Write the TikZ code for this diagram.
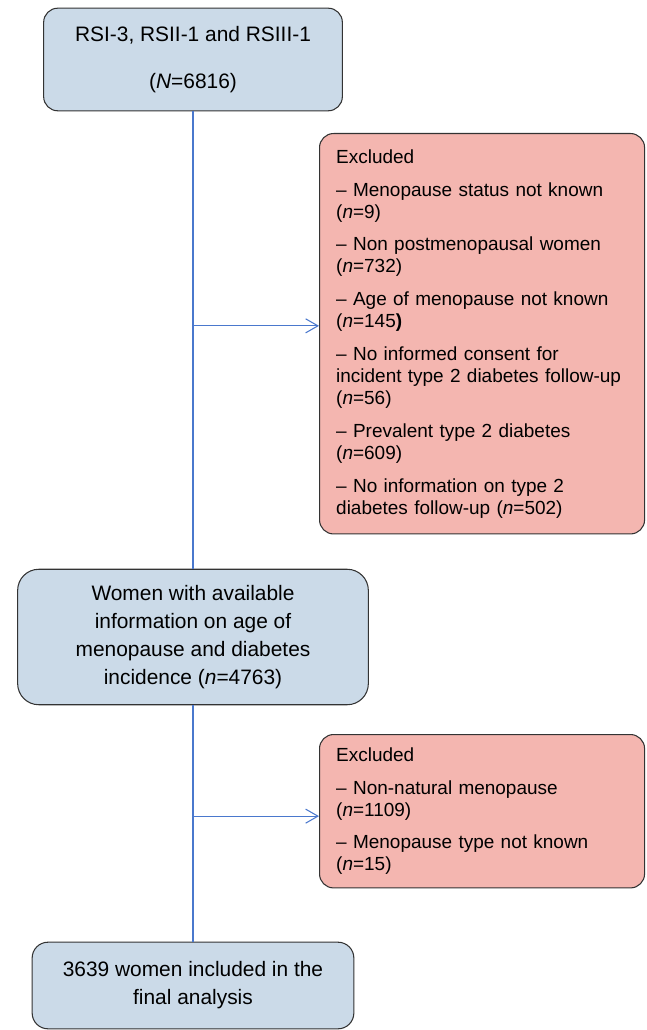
\documentclass[tikz,border=0pt]{standalone}
\usepackage{fontspec}
\setmainfont{Liberation Sans}
\usetikzlibrary{arrows.meta}
\definecolor{boxblue}{RGB}{203,218,232}
\definecolor{boxpink}{RGB}{244,182,176}
\definecolor{flowblue}{RGB}{74,120,205}
\begin{document}
\begin{tikzpicture}[x=0.02cm,y=-0.02cm,>={Straight Barb[length=7pt,width=8pt]},
  blue/.style={draw=black!80,fill=boxblue,rounded corners=8pt,line width=0.6pt,align=center,
    font=\fontsize{11.9}{15.9}\selectfont,inner sep=0pt},
  pink/.style={draw=black!80,fill=boxpink,rounded corners=8pt,line width=0.6pt,align=left,
    anchor=north west,text width=166pt,inner xsep=9.5pt,inner ysep=0pt,
    minimum width=185pt,font=\fontsize{10.8}{12.5}\selectfont},
  flow/.style={draw=flowblue,line width=0.6pt}]
\useasboundingbox (0,0) rectangle (646,1030);
\node[blue,minimum width=170pt,minimum height=58.4pt] (start) at (193,59.5)
  {RSI-3, RSII-1 and RSIII-1\\[11pt](\textit{N}=6816)};
\node[pink,minimum height=227.9pt] (excl1) at (319,133)
  {Excluded\\[6.2pt]
   – Menopause status not known\\(\textit{n}=9)\\[6.2pt]
   – Non postmenopausal women\\(\textit{n}=732)\\[6.2pt]
   – Age of menopause not known\\(\textit{n}=145\textbf{)}\\[6.2pt]
   – No informed consent for\\incident type 2 diabetes follow-up\\(\textit{n}=56)\\[6.2pt]
   – Prevalent type 2 diabetes\\(\textit{n}=609)\\[6.2pt]
   – No information on type 2\\diabetes follow-up (\textit{n}=502)};
\node[blue,rounded corners=12pt,minimum width=199.6pt,minimum height=77.1pt] (avail) at (193,637)
  {Women with available\\information on age of\\menopause and diabetes\\incidence (\textit{n}=4763)};
\node[pink,minimum height=87.3pt] (excl2) at (319,734)
  {Excluded\\[6.2pt]
   – Non-natural menopause\\(\textit{n}=1109)\\[6.2pt]
   – Menopause type not known\\(\textit{n}=15)};
\node[blue,rounded corners=9pt,minimum width=183.1pt,minimum height=49.3pt] (final) at (193,985.5)
  {3639 women included in the\\final analysis};
% main line and branches
\draw[flow] (start) -- (avail);
\draw[flow] (avail) -- (final);
\coordinate (e1) at ([yshift=4.5pt]excl1.west);
\coordinate (e2) at ([yshift=-2.8pt]excl2.west);
\coordinate (b1) at (start.south |- e1);
\coordinate (b2) at (avail.south |- e2);
\draw[flow,->] (b1) -- (e1);
\draw[flow,->] (b2) -- (e2);
\end{tikzpicture}
\end{document}
